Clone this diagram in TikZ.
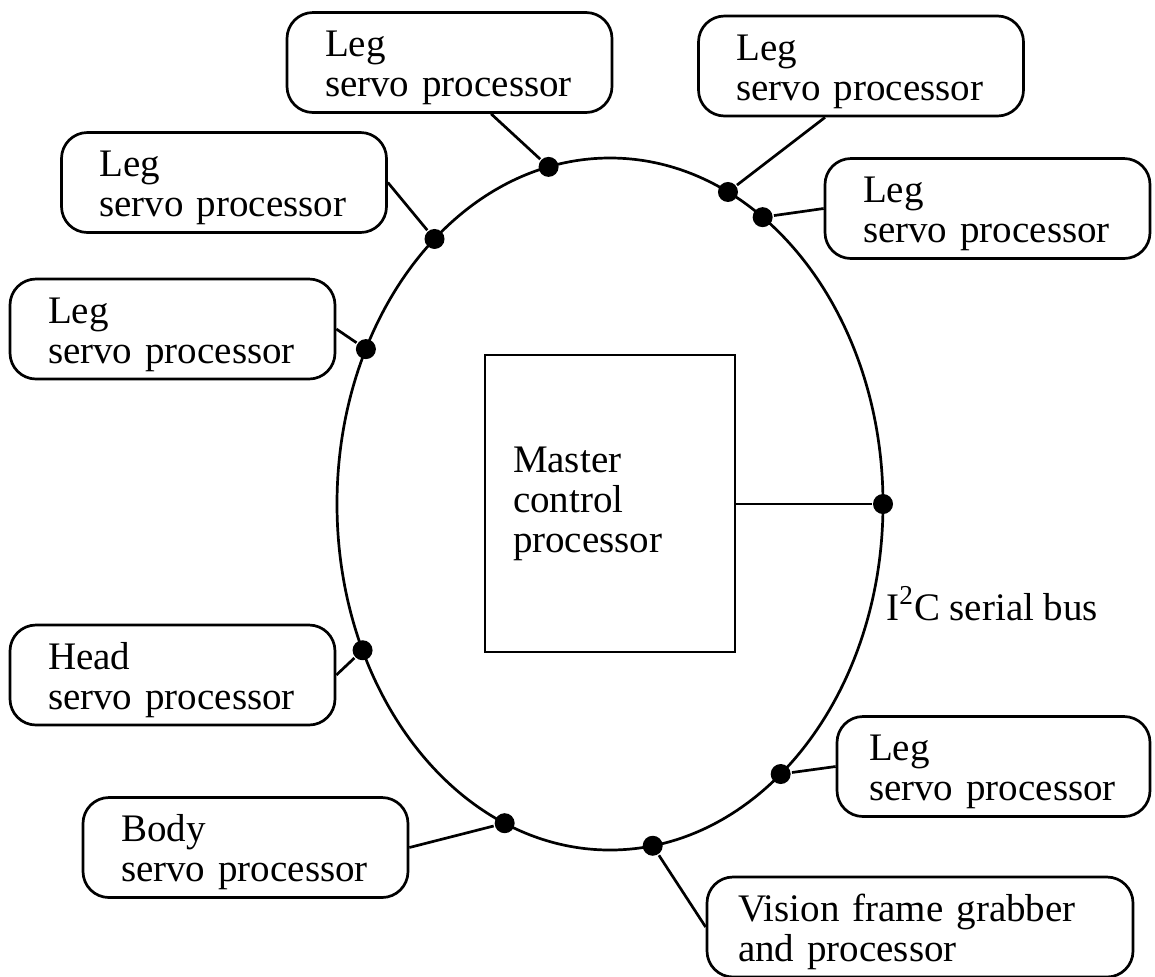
\documentclass[tikz,border=0pt]{standalone}
\usepackage{fontspec}
\setmainfont{Liberation Serif}
\usetikzlibrary{positioning}

\tikzset{
  unit/.style={draw, rounded corners=13pt, align=left, minimum height=50pt,
    inner xsep=19pt, text width=124.5pt, font=\fontsize{19.5}{20}\selectfont,
    execute at begin node=\rule{0pt}{18.5pt}},
  dot/.style={circle, fill, inner sep=0pt, minimum size=10pt}
}

\begin{document}
\begin{tikzpicture}[x=0.5pt, y=-0.5pt, line width=1.35pt]
  \useasboundingbox (0,0) rectangle (1155,976);

  % the serial bus loop
  \draw (610,504) ellipse [x radius=273, y radius=346];

  % taps on the bus
  \begin{scope}[shift={(610,504)}]
    \node[dot] (dA) at (257:273 and 346) {};
    \node[dot] (dB) at (295.6:273 and 346) {};
    \node[dot] (dD) at (304:273 and 346) {};
    \node[dot] (dC) at (230:273 and 346) {};
    \node[dot] (dE) at (206.6:273 and 346) {};
    \node[dot] (dH) at (155:273 and 346) {};
    \node[dot] (dBody) at (112.7:273 and 346) {};
    \node[dot] (dV) at (81:273 and 346) {};
    \node[dot] (dF) at (51.3:273 and 346) {};
    \node[dot] (bus) at (0:273 and 346) {};
  \end{scope}

  % processors round the bus
  \node[unit] (legA) at (449.5,62.5) {Leg\\servo processor};
  \node[unit] (legB) at (861,66) {Leg\\servo processor};
  \node[unit] (legC) at (224,182.5) {Leg\\servo processor};
  \node[unit] (legD) at (987.5,208.5) {Leg\\servo processor};
  \node[unit] (legE) at (172.5,329) {Leg\\servo processor};
  \node[unit] (head) at (172.5,675) {Head\\servo processor};
  \node[unit, inner xsep=16pt] (legF) at (993.5,766.5) {Leg\\servo processor};
  \node[unit] (body) at (245.5,847.5) {Body\\servo processor};
  \node[unit, text width=182pt, inner xsep=15.5pt] (vision) at (920,927)
    {Vision frame grabber\\and processor};

  % master in the middle
  \node[draw, align=left, minimum height=148.5pt, text width=97pt, inner xsep=14pt,
    font=\fontsize{19.5}{20}\selectfont] (master) at (610,503.5)
    {Master\\control\\processor};

  \node[anchor=base west, inner sep=0pt, font=\fontsize{19.5}{20}\selectfont]
    (busname) at (885,620) {I\textsuperscript{2}C serial bus};

  % stubs
  \draw (legA.309) -- (dA);
  \draw (legB.235) -- (dB);
  \draw (legC.east) -- (dC);
  \draw (legD.west) -- (dD);
  \draw (legE.east) -- (dE);
  \draw (head.east) -- (dH);
  \draw (legF.west) -- (dF);
  \draw (body.east) -- (dBody);
  \draw (vision.west) -- (dV);
  \draw (bus -| master.east) -- (bus);
\end{tikzpicture}
\end{document}
